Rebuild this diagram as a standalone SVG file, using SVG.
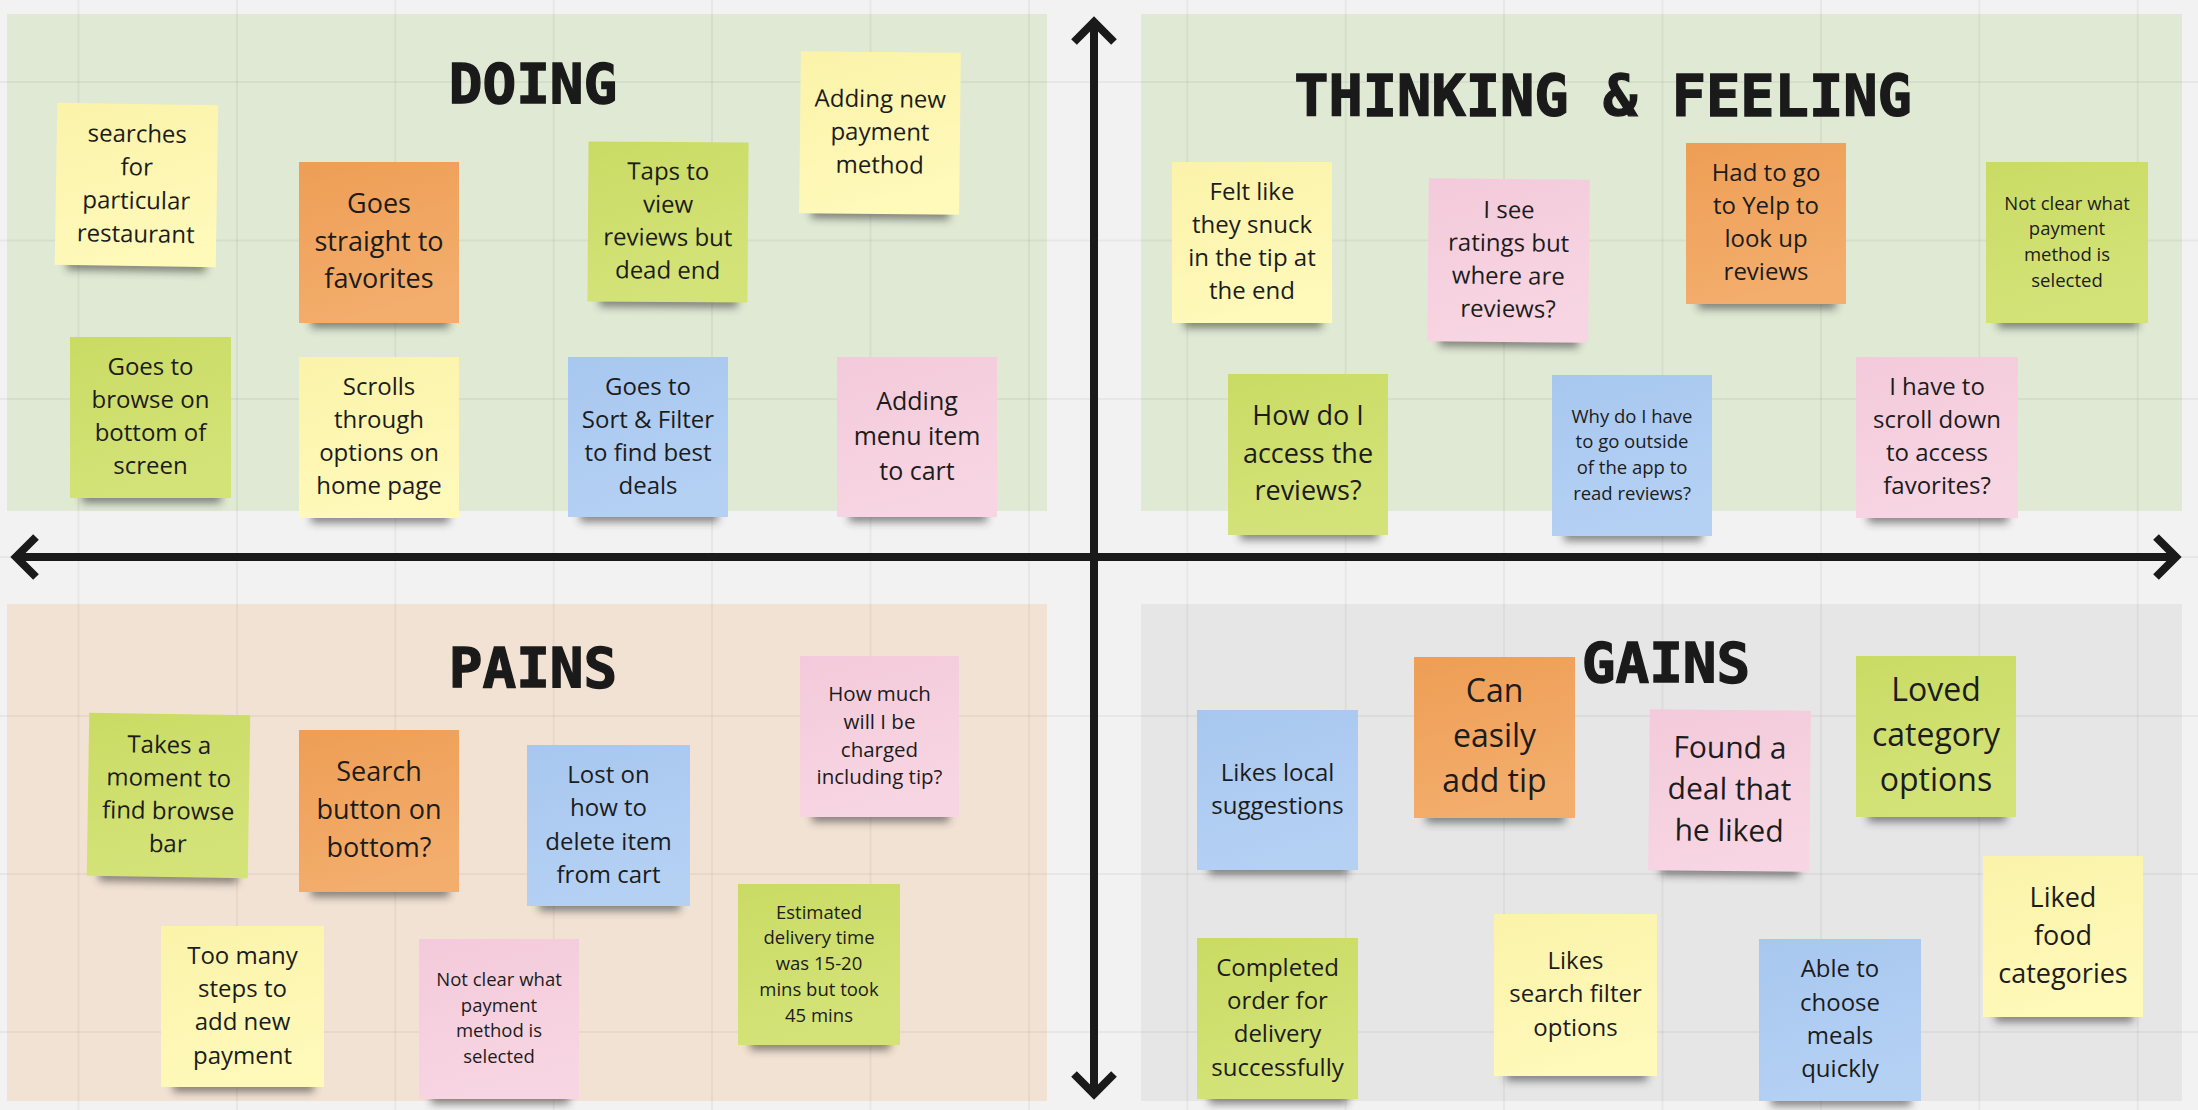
<svg xmlns="http://www.w3.org/2000/svg" width="2198" height="1110" viewBox="0 0 2198 1110">
<defs>
<linearGradient id="gy" x1="0" y1="0" x2="0.3" y2="1"><stop offset="0" stop-color="#fbf3a9"/><stop offset="1" stop-color="#fff9ba"/></linearGradient>
<linearGradient id="go" x1="0" y1="0" x2="0.3" y2="1"><stop offset="0" stop-color="#ee9e55"/><stop offset="1" stop-color="#f3ad6c"/></linearGradient>
<linearGradient id="gg" x1="0" y1="0" x2="0.3" y2="1"><stop offset="0" stop-color="#cadb64"/><stop offset="1" stop-color="#d4e378"/></linearGradient>
<linearGradient id="gb" x1="0" y1="0" x2="0.3" y2="1"><stop offset="0" stop-color="#a8c7ef"/><stop offset="1" stop-color="#b4d1f4"/></linearGradient>
<linearGradient id="gp" x1="0" y1="0" x2="0.3" y2="1"><stop offset="0" stop-color="#f3cadb"/><stop offset="1" stop-color="#f8d5e2"/></linearGradient>
<filter id="blur" x="-20%" y="-100%" width="140%" height="300%"><feGaussianBlur stdDeviation="4"/></filter>
</defs>
<style>
.sh{fill:#2a2a2a;opacity:.55;filter:url(#blur)}
.y{fill:url(#gy)}.o{fill:url(#go)}.g{fill:url(#gg)}.b{fill:url(#gb)}.p{fill:url(#gp)}
.t{font-family:"Open Sans","Noto Sans",sans-serif;fill:#1c1c1c;text-anchor:middle}
.title{font-family:"DejaVu Sans Mono","Liberation Mono",monospace;font-weight:bold;fill:#1a1a1a;stroke:#1a1a1a;stroke-width:1.3;text-anchor:middle}
.grid line{stroke:#000;stroke-opacity:.045;stroke-width:2}
.ax{fill:none;stroke:#1a1a1a;stroke-width:8;stroke-linejoin:miter}
</style>
<rect width="2198" height="1110" fill="#f2f2f2"/>
<g id="quadrants">
<rect id="q-doing" x="7" y="14" width="1040" height="497" fill="#dfe9d4"/>
<rect id="q-thinking" x="1141" y="14" width="1041" height="497" fill="#dfe9d4"/>
<rect id="q-pains" x="7" y="604" width="1040" height="497" fill="#f2e2d3"/>
<rect id="q-gains" x="1141" y="604" width="1041" height="497" fill="#e6e6e6"/>
</g>
<g class="grid">
<line x1="78.5" y1="0" x2="78.5" y2="1110"/><line x1="237" y1="0" x2="237" y2="1110"/><line x1="395.3" y1="0" x2="395.3" y2="1110"/><line x1="553.7" y1="0" x2="553.7" y2="1110"/><line x1="712" y1="0" x2="712" y2="1110"/><line x1="870.5" y1="0" x2="870.5" y2="1110"/><line x1="1029" y1="0" x2="1029" y2="1110"/><line x1="1187.3" y1="0" x2="1187.3" y2="1110"/><line x1="1345.7" y1="0" x2="1345.7" y2="1110"/><line x1="1504" y1="0" x2="1504" y2="1110"/><line x1="1662.5" y1="0" x2="1662.5" y2="1110"/><line x1="1821" y1="0" x2="1821" y2="1110"/><line x1="1979.3" y1="0" x2="1979.3" y2="1110"/><line x1="2137.7" y1="0" x2="2137.7" y2="1110"/>
<line x1="0" y1="82" x2="2198" y2="82"/><line x1="0" y1="240.5" x2="2198" y2="240.5"/><line x1="0" y1="399" x2="2198" y2="399"/><line x1="0" y1="557" x2="2198" y2="557"/><line x1="0" y1="716" x2="2198" y2="716"/><line x1="0" y1="874" x2="2198" y2="874"/><line x1="0" y1="1032" x2="2198" y2="1032"/>
</g>
<g id="titles">
<text id="t-doing" class="title" x="533" y="103" font-size="56">DOING</text>
<text id="t-thinking" class="title" x="1603" y="116" font-size="57">THINKING &amp; FEELING</text>
<text id="t-pains" class="title" x="533" y="687" font-size="56">PAINS</text>
<text id="t-gains" class="title" x="1666" y="682" font-size="56">GAINS</text>
</g>
<g id="connectors">
<path class="ax" d="M1094 22V1094"/>
<path class="ax" d="M1074 42L1094 22L1114 42"/>
<path class="ax" d="M1074 1074L1094 1094L1114 1074"/>
<path class="ax" d="M16 557H2176"/>
<path class="ax" d="M2156 537L2176 557L2156 577"/>
<path class="ax" d="M36 537L16 557L36 577"/>
</g>
<g id="notes">
<g id="n1" transform="rotate(0.9 136.5 185)"><rect class="sh" x="68" y="258" width="139" height="13"/><rect class="y" x="56" y="104" width="161" height="162"/><text class="t" font-size="24"><tspan x="136.5" y="142.2">searches</tspan><tspan x="136.5" y="175.5">for</tspan><tspan x="136.5" y="208.9">particular</tspan><tspan x="136.5" y="242.2">restaurant</tspan></text></g>
<g id="n2"><rect class="sh" x="311" y="315" width="138" height="13"/><rect class="o" x="299" y="162" width="160" height="161"/><text class="t" font-size="27"><tspan x="379" y="213.3">Goes</tspan><tspan x="379" y="250.6">straight to</tspan><tspan x="379" y="287.9">favorites</tspan></text></g>
<g id="n3" transform="rotate(0.4 668 222)"><rect class="sh" x="600" y="294" width="138" height="13"/><rect class="g" x="588" y="142" width="160" height="160"/><text class="t" font-size="24"><tspan x="668" y="179.7">Taps to</tspan><tspan x="668" y="212.7">view</tspan><tspan x="668" y="245.7">reviews but</tspan><tspan x="668" y="278.7">dead end</tspan></text></g>
<g id="n4" transform="rotate(0.6 880 133)"><rect class="sh" x="812" y="206" width="138" height="13"/><rect class="y" x="800" y="52" width="160" height="162"/><text class="t" font-size="24"><tspan x="880" y="107.2">Adding new</tspan><tspan x="880" y="140.2">payment</tspan><tspan x="880" y="173.2">method</tspan></text></g>
<g id="n5"><rect class="sh" x="82" y="490" width="139" height="13"/><rect class="g" x="70" y="337" width="161" height="161"/><text class="t" font-size="24"><tspan x="150.5" y="375.2">Goes to</tspan><tspan x="150.5" y="408.2">browse on</tspan><tspan x="150.5" y="441.2">bottom of</tspan><tspan x="150.5" y="474.2">screen</tspan></text></g>
<g id="n6"><rect class="sh" x="311" y="510" width="138" height="13"/><rect class="y" x="299" y="357" width="160" height="161"/><text class="t" font-size="24"><tspan x="379" y="395.2">Scrolls</tspan><tspan x="379" y="428.2">through</tspan><tspan x="379" y="461.2">options on</tspan><tspan x="379" y="494.2">home page</tspan></text></g>
<g id="n7"><rect class="sh" x="580" y="509" width="138" height="13"/><rect class="b" x="568" y="357" width="160" height="160"/><text class="t" font-size="24"><tspan x="648" y="394.7">Goes to</tspan><tspan x="648" y="427.7">Sort &amp; Filter</tspan><tspan x="648" y="460.7">to find best</tspan><tspan x="648" y="493.7">deals</tspan></text></g>
<g id="n8"><rect class="sh" x="849" y="509" width="138" height="13"/><rect class="p" x="837" y="357" width="160" height="160"/><text class="t" font-size="25"><tspan x="917" y="409.5">Adding</tspan><tspan x="917" y="444.5">menu item</tspan><tspan x="917" y="479.5">to cart</tspan></text></g>
<g id="n9"><rect class="sh" x="1184" y="315" width="138" height="13"/><rect class="y" x="1172" y="162" width="160" height="161"/><text class="t" font-size="24"><tspan x="1252" y="200.2">Felt like</tspan><tspan x="1252" y="233.2">they snuck</tspan><tspan x="1252" y="266.2">in the tip at</tspan><tspan x="1252" y="299.2">the end</tspan></text></g>
<g id="n10" transform="rotate(0.6 1508.5 260.5)"><rect class="sh" x="1440" y="334" width="139" height="13"/><rect class="p" x="1428" y="179" width="161" height="163"/><text class="t" font-size="24"><tspan x="1508.5" y="218.2">I see</tspan><tspan x="1508.5" y="251.2">ratings but</tspan><tspan x="1508.5" y="284.2">where are</tspan><tspan x="1508.5" y="317.2">reviews?</tspan></text></g>
<g id="n11"><rect class="sh" x="1698" y="296" width="138" height="13"/><rect class="o" x="1686" y="143" width="160" height="161"/><text class="t" font-size="24"><tspan x="1766" y="181.2">Had to go</tspan><tspan x="1766" y="214.2">to Yelp to</tspan><tspan x="1766" y="247.2">look up</tspan><tspan x="1766" y="280.2">reviews</tspan></text></g>
<g id="n12"><rect class="sh" x="1998" y="315" width="140" height="13"/><rect class="g" x="1986" y="162" width="162" height="161"/><text class="t" font-size="18.5"><tspan x="2067" y="209.5">Not clear what</tspan><tspan x="2067" y="235.2">payment</tspan><tspan x="2067" y="260.9">method is</tspan><tspan x="2067" y="286.6">selected</tspan></text></g>
<g id="n13"><rect class="sh" x="1240" y="527" width="138" height="13"/><rect class="g" x="1228" y="374" width="160" height="161"/><text class="t" font-size="27"><tspan x="1308" y="425.1">How do I</tspan><tspan x="1308" y="462.6">access the</tspan><tspan x="1308" y="500.1">reviews?</tspan></text></g>
<g id="n14"><rect class="sh" x="1564" y="528" width="138" height="13"/><rect class="b" x="1552" y="375" width="160" height="161"/><text class="t" font-size="18.5"><tspan x="1632" y="422.5">Why do I have</tspan><tspan x="1632" y="448.2">to go outside</tspan><tspan x="1632" y="473.9">of the app to</tspan><tspan x="1632" y="499.6">read reviews?</tspan></text></g>
<g id="n15"><rect class="sh" x="1868" y="510" width="140" height="13"/><rect class="p" x="1856" y="357" width="162" height="161"/><text class="t" font-size="24"><tspan x="1937" y="395.2">I have to</tspan><tspan x="1937" y="428.2">scroll down</tspan><tspan x="1937" y="461.2">to access</tspan><tspan x="1937" y="494.2">favorites?</tspan></text></g>
<g id="n16" transform="rotate(0.9 168.5 795.5)"><rect class="sh" x="100" y="869" width="139" height="13"/><rect class="g" x="88" y="714" width="161" height="163"/><text class="t" font-size="24"><tspan x="168.5" y="753.2">Takes a</tspan><tspan x="168.5" y="786.2">moment to</tspan><tspan x="168.5" y="819.2">find browse</tspan><tspan x="168.5" y="852.2">bar</tspan></text></g>
<g id="n17"><rect class="sh" x="311" y="884" width="138" height="13"/><rect class="o" x="299" y="730" width="160" height="162"/><text class="t" font-size="27"><tspan x="379" y="781.1">Search</tspan><tspan x="379" y="819.1">button on</tspan><tspan x="379" y="857.1">bottom?</tspan></text></g>
<g id="n18"><rect class="sh" x="539" y="898" width="141" height="13"/><rect class="b" x="527" y="745" width="163" height="161"/><text class="t" font-size="24"><tspan x="608.5" y="782.5">Lost on</tspan><tspan x="608.5" y="816">how to</tspan><tspan x="608.5" y="849.5">delete item</tspan><tspan x="608.5" y="883">from cart</tspan></text></g>
<g id="n19"><rect class="sh" x="812" y="809" width="137" height="13"/><rect class="p" x="800" y="656" width="159" height="161"/><text class="t" font-size="20.5"><tspan x="879.5" y="701">How much</tspan><tspan x="879.5" y="728.8">will I be</tspan><tspan x="879.5" y="756.6">charged</tspan><tspan x="879.5" y="784.4">including tip?</tspan></text></g>
<g id="n20"><rect class="sh" x="173" y="1079" width="141" height="13"/><rect class="y" x="161" y="926" width="163" height="161"/><text class="t" font-size="24"><tspan x="242.5" y="963.8">Too many</tspan><tspan x="242.5" y="997.1">steps to</tspan><tspan x="242.5" y="1030.4">add new</tspan><tspan x="242.5" y="1063.7">payment</tspan></text></g>
<g id="n21"><rect class="sh" x="431" y="1091" width="138" height="13"/><rect class="p" x="419" y="939" width="160" height="160"/><text class="t" font-size="18.5"><tspan x="499" y="986">Not clear what</tspan><tspan x="499" y="1011.7">payment</tspan><tspan x="499" y="1037.4">method is</tspan><tspan x="499" y="1063.1">selected</tspan></text></g>
<g id="n22"><rect class="sh" x="750" y="1037" width="140" height="13"/><rect class="g" x="738" y="884" width="162" height="161"/><text class="t" font-size="18.5"><tspan x="819" y="918.7">Estimated</tspan><tspan x="819" y="944.4">delivery time</tspan><tspan x="819" y="970.1">was 15-20</tspan><tspan x="819" y="995.8">mins but took</tspan><tspan x="819" y="1021.5">45 mins</tspan></text></g>
<g id="n23"><rect class="sh" x="1209" y="862" width="139" height="13"/><rect class="b" x="1197" y="710" width="161" height="160"/><text class="t" font-size="24"><tspan x="1277.5" y="780.5">Likes local</tspan><tspan x="1277.5" y="813.9">suggestions</tspan></text></g>
<g id="n24"><rect class="sh" x="1426" y="810" width="139" height="13"/><rect class="o" x="1414" y="657" width="161" height="161"/><text class="t" font-size="32"><tspan x="1494.5" y="702.1">Can</tspan><tspan x="1494.5" y="747.1">easily</tspan><tspan x="1494.5" y="792.1">add tip</tspan></text></g>
<g id="n25" transform="rotate(0.6 1729.5 790.5)"><rect class="sh" x="1661" y="863" width="139" height="13"/><rect class="p" x="1649" y="710" width="161" height="161"/><text class="t" font-size="30"><tspan x="1729.5" y="758">Found a</tspan><tspan x="1729.5" y="799.5">deal that</tspan><tspan x="1729.5" y="841">he liked</tspan></text></g>
<g id="n26"><rect class="sh" x="1868" y="809" width="138" height="13"/><rect class="g" x="1856" y="656" width="160" height="161"/><text class="t" font-size="32"><tspan x="1936" y="701.1">Loved</tspan><tspan x="1936" y="746.1">category</tspan><tspan x="1936" y="791.1">options</tspan></text></g>
<g id="n27"><rect class="sh" x="1995" y="1009" width="138" height="13"/><rect class="y" x="1983" y="856" width="160" height="161"/><text class="t" font-size="27"><tspan x="2063" y="906.6">Liked</tspan><tspan x="2063" y="944.6">food</tspan><tspan x="2063" y="982.6">categories</tspan></text></g>
<g id="n28"><rect class="sh" x="1209" y="1091" width="139" height="13"/><rect class="g" x="1197" y="938" width="161" height="161"/><text class="t" font-size="24"><tspan x="1277.5" y="975.8">Completed</tspan><tspan x="1277.5" y="1009.1">order for</tspan><tspan x="1277.5" y="1042.4">delivery</tspan><tspan x="1277.5" y="1075.7">successfully</tspan></text></g>
<g id="n29"><rect class="sh" x="1506" y="1068" width="141" height="13"/><rect class="y" x="1494" y="914" width="163" height="162"/><text class="t" font-size="24"><tspan x="1575.5" y="968.9">Likes</tspan><tspan x="1575.5" y="1002.2">search filter</tspan><tspan x="1575.5" y="1035.5">options</tspan></text></g>
<g id="n30"><rect class="sh" x="1771" y="1093" width="140" height="13"/><rect class="b" x="1759" y="939" width="162" height="162"/><text class="t" font-size="24"><tspan x="1840" y="977.3">Able to</tspan><tspan x="1840" y="1010.6">choose</tspan><tspan x="1840" y="1043.9">meals</tspan><tspan x="1840" y="1077.2">quickly</tspan></text></g>
</g>
</svg>
